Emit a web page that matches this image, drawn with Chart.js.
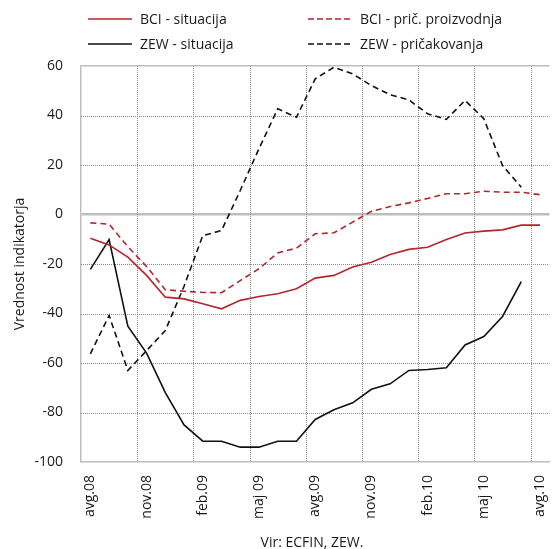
<!DOCTYPE html>
<html>
<head>
<meta charset="utf-8">
<script src="https://cdn.jsdelivr.net/npm/chart.js@4"></script>
<style>
    html, body { margin: 0; padding: 0; background: #fff; overflow: hidden; }
    body { width: 558px; height: 549px; position: relative; font-family: "Open Sans", sans-serif; color: #1a1a1a; }
    #wrap { position: absolute; left: 0; top: 0; width: 570px; height: 549px; }
    .legend-item { position: absolute; font-size: 14px; line-height: 18px; white-space: nowrap; }
    .legend-item svg { position: absolute; top: 6px; left: 0; }
    .legend-item .label { position: absolute; top: 0; left: 52px; }
    #source { position: absolute; top: 532px; left: 0; width: 624px; text-align: center; font-size: 14px; }
</style>
</head>
<body>
<div id="wrap"><canvas id="chart" width="570" height="549"></canvas></div>
<div id="legend"></div>
<div id="source">Vir: ECFIN, ZEW.</div>
<script>
    // Months Aug 2008 - Aug 2010
    const months = ['avg.08', 'sep.08', 'okt.08', 'nov.08', 'dec.08', 'jan.09', 'feb.09', 'mar.09', 'apr.09',
        'maj 09', 'jun.09', 'jul.09', 'avg.09', 'sep.09', 'okt.09', 'nov.09', 'dec.09', 'jan.10', 'feb.10',
        'mar.10', 'apr.10', 'maj 10', 'jun.10', 'jul.10', 'avg.10'];

    const bciSituacija = [-9.6, -12.3, -17.2, -24.6, -33.4, -34.1, -36.1, -38.1, -34.7, -33.1, -32.0, -30.0,
        -25.7, -24.6, -21.2, -19.3, -16.2, -14.1, -13.2, -10.1, -7.5, -6.7, -6.2, -4.3, -4.3];
    const bciProizvodnja = [-3.4, -3.9, -13.0, -21.0, -30.4, -31.0, -31.5, -31.6, -26.7, -21.9, -15.5, -13.6,
        -7.8, -7.4, -3.1, 1.3, 3.2, 4.7, 6.5, 8.4, 8.4, 9.4, 9.0, 9.0, 8.0];
    const zewSituacija = [-22.2, -10.1, -45.1, -56.0, -72.0, -85.0, -91.6, -91.6, -94.0, -94.0, -91.6, -91.6,
        -82.8, -78.9, -76.1, -70.6, -68.4, -63.0, -62.6, -61.9, -52.7, -49.3, -41.2, -27.1, null];
    const zewPricakovanja = [-56.3, -40.8, -63.0, -55.0, -46.9, -29.0, -8.5, -6.5, 9.7, 26.6, 42.7, 39.3,
        54.8, 59.5, 56.8, 52.1, 48.4, 46.3, 40.7, 38.4, 46.1, 38.7, 19.8, 11.0, null];

    const RED = '#b3262b';
    const BLACK = '#111111';
    const GRID = '#8c8c8c';
    const AXIS = '#bdbdbd';
    const TEXT = '#1a1a1a';
    const FONT = '"Open Sans", sans-serif';

    const series = [
        { label: 'BCI - situacija', data: bciSituacija, color: RED, dash: [] },
        { label: 'BCI - prič. proizvodnja', data: bciProizvodnja, color: RED, dash: [6, 4] },
        { label: 'ZEW - situacija', data: zewSituacija, color: BLACK, dash: [] },
        { label: 'ZEW - pričakovanja', data: zewPricakovanja, color: BLACK, dash: [6, 4] }
    ];

    // HTML legend, two columns
    const legendPos = [
        { x: 88, y: 10 }, { x: 308, y: 10 },
        { x: 88, y: 35 }, { x: 308, y: 35 }
    ];
    const legendEl = document.getElementById('legend');
    series.forEach((s, i) => {
        const p = legendPos[i];
        const item = document.createElement('div');
        item.className = 'legend-item';
        item.style.left = p.x + 'px';
        item.style.top = p.y + 'px';
        const dashAttr = s.dash.length ? 'stroke-dasharray="6,3"' : '';
        item.innerHTML = `
            <svg width="44" height="6"><line x1="0" y1="3" x2="44" y2="3" stroke="${s.color}" stroke-width="1.6" ${dashAttr}/></svg>
            <div class="label">${s.label}</div>
        `;
        legendEl.appendChild(item);
    });

    // dotted grid lines drawn behind the data, on the scales' own tick positions
    const dottedGrid = {
        id: 'dottedGrid',
        beforeDatasetsDraw(chart) {
            const { ctx, chartArea: a, scales: { x, y } } = chart;
            ctx.save();
            ctx.strokeStyle = GRID;
            ctx.lineWidth = 1;
            ctx.setLineDash([1, 1]);
            y.ticks.forEach(t => {
                if (t.value === 0 || t.value === 60 || t.value === -100) return;
                const py = Math.round(y.getPixelForValue(t.value)) + 0.5;
                ctx.beginPath();
                ctx.moveTo(a.left, py);
                ctx.lineTo(a.right, py);
                ctx.stroke();
            });
            const half = (x.getPixelForValue(1) - x.getPixelForValue(0)) / 2;
            for (let i = 3; i < months.length; i += 3) {
                const px = Math.round(x.getPixelForValue(i) - half) + 0.5;
                ctx.beginPath();
                ctx.moveTo(px, a.top);
                ctx.lineTo(px, a.bottom);
                ctx.stroke();
            }
            ctx.restore();
        }
    };

    new Chart(document.getElementById('chart'), {
        type: 'line',
        data: {
            labels: months,
            datasets: series.map(s => ({
                label: s.label,
                data: s.data,
                borderColor: s.color,
                backgroundColor: s.color,
                borderWidth: 1.6,
                borderDash: s.dash,
                pointRadius: 0,
                tension: 0,
                fill: false
            }))
        },
        plugins: [dottedGrid],
        options: {
            responsive: false,
            animation: false,
            layout: { padding: { top: 66, right: 9, bottom: 0, left: 0 } },
            plugins: {
                legend: { display: false },
                tooltip: { enabled: false }
            },
            scales: {
                x: {
                    offset: true,
                    afterFit: (scale) => { scale.height = 87; },
                    grid: { display: false, drawTicks: false },
                    border: { display: true, color: AXIS, width: 1.5 },
                    ticks: {
                        autoSkip: false,
                        maxRotation: 90,
                        minRotation: 90,
                        padding: 13,
                        color: TEXT,
                        font: { family: FONT, size: 14 },
                        callback: (val, i) => i % 3 === 0 ? months[i] : ''
                    }
                },
                y: {
                    min: -100,
                    max: 60,
                    afterFit: (scale) => { scale.width = 81; },
                    grid: {
                        drawTicks: false,
                        color: (ctx) => ctx.tick && (ctx.tick.value === 0 || ctx.tick.value === 60) ? AXIS : 'rgba(0,0,0,0)',
                        lineWidth: (ctx) => ctx.tick && ctx.tick.value === 0 ? 2.5 : 1.5
                    },
                    border: { display: true, color: AXIS, width: 1.5 },
                    ticks: {
                        stepSize: 20,
                        padding: 18,
                        color: TEXT,
                        font: { family: FONT, size: 14 }
                    },
                    title: {
                        display: true,
                        text: 'Vrednost indikatorja',
                        color: TEXT,
                        font: { family: FONT, size: 14 },
                        padding: { top: 12, bottom: 0 }
                    }
                }
            }
        }
    });
</script>
</body>
</html>
